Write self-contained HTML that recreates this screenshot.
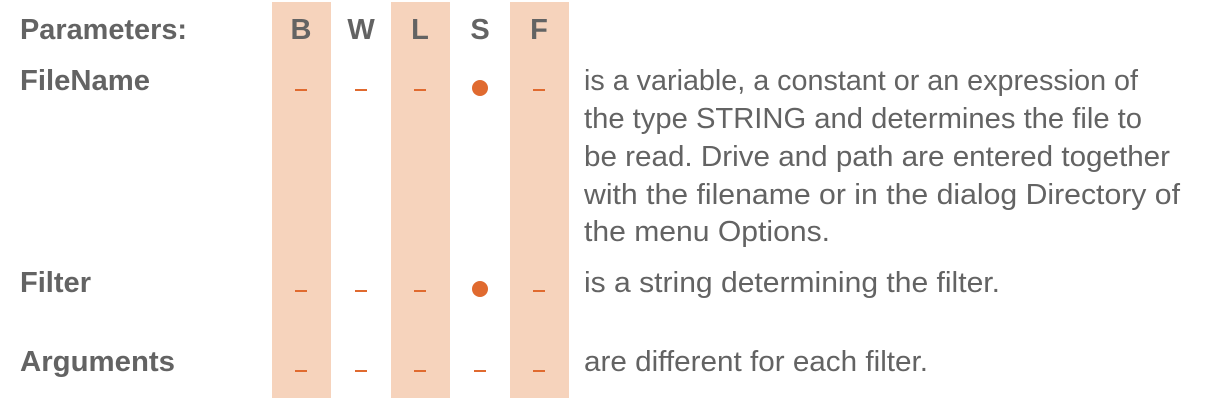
<!DOCTYPE html>
<html><head><meta charset="utf-8"><style>
html,body{margin:0;padding:0;background:#fff;}
svg{display:block;}
text{font-family:"Liberation Sans",sans-serif;fill:#636363;font-size:29px;}
.b{font-weight:bold;}
</style></head><body>
<svg width="1223" height="406" viewBox="0 0 1223 406">
<rect x="272" y="2" width="59" height="396" fill="#f6d3bc"/>
<rect x="391" y="2" width="59" height="396" fill="#f6d3bc"/>
<rect x="510" y="2" width="59" height="396" fill="#f6d3bc"/>

<text class="b" x="20" y="39" textLength="167" lengthAdjust="spacingAndGlyphs">Parameters:</text>
<g class="b" text-anchor="middle">
<text class="b" x="301" y="39">B</text>
<text class="b" x="361" y="39">W</text>
<text class="b" x="420" y="39">L</text>
<text class="b" x="480" y="39">S</text>
<text class="b" x="539" y="39">F</text>
</g>

<text class="b" x="20" y="90" textLength="130" lengthAdjust="spacingAndGlyphs">FileName</text>
<text class="b" x="20" y="292" textLength="71" lengthAdjust="spacingAndGlyphs">Filter</text>
<text class="b" x="20" y="371" textLength="155" lengthAdjust="spacingAndGlyphs">Arguments</text>

<g fill="#e06a2f">
<rect x="295" y="89" width="12" height="2"/><rect x="355" y="89" width="12" height="2"/><rect x="414" y="89" width="12" height="2"/>
<circle cx="480" cy="88" r="8"/><rect x="533" y="89" width="12" height="2"/>
</g>
<g fill="#e06a2f">
<rect x="295" y="290" width="12" height="2"/><rect x="355" y="290" width="12" height="2"/><rect x="414" y="290" width="12" height="2"/>
<circle cx="480" cy="289" r="8"/><rect x="533" y="290" width="12" height="2"/>
</g>
<g fill="#e06a2f">
<rect x="295" y="370" width="12" height="2"/><rect x="355" y="370" width="12" height="2"/><rect x="414" y="370" width="12" height="2"/>
<rect x="474" y="370" width="12" height="2"/><rect x="533" y="370" width="12" height="2"/>
</g>

<g>
<text x="584" y="90" textLength="554" lengthAdjust="spacingAndGlyphs">is a variable, a constant or an expression of</text>
<text x="584" y="128" textLength="558" lengthAdjust="spacingAndGlyphs">the type STRING and determines the file to</text>
<text x="584" y="166" textLength="586" lengthAdjust="spacingAndGlyphs">be read. Drive and path are entered together</text>
<text x="584" y="204" textLength="596" lengthAdjust="spacingAndGlyphs">with the filename or in the dialog Directory of</text>
<text x="584" y="241" textLength="246" lengthAdjust="spacingAndGlyphs">the menu Options.</text>
</g>
<text x="584" y="292" textLength="416" lengthAdjust="spacingAndGlyphs">is a string determining the filter.</text>
<text x="584" y="371" textLength="344" lengthAdjust="spacingAndGlyphs">are different for each filter.</text>
</svg>
</body></html>
